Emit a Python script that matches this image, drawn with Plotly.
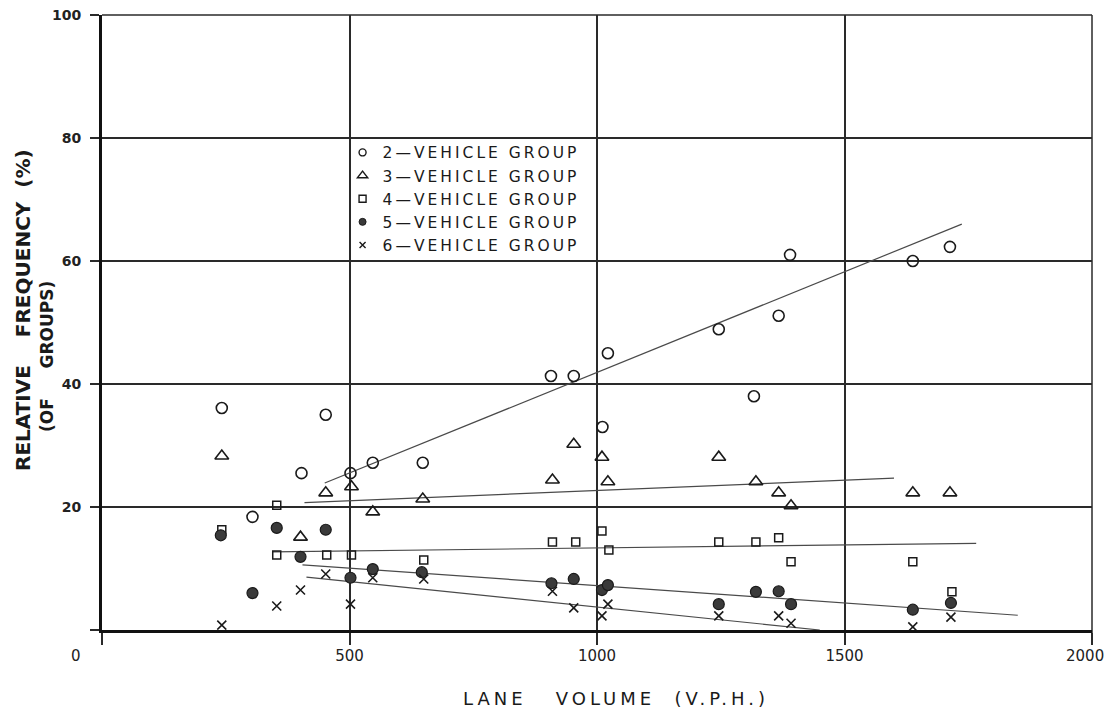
import plotly.graph_objects as go

# ---------------- data ----------------
x_tick_vals = [0, 500, 1000, 1500, 2000]
x_tick_text = ["", "500", "1000", "1500", ""]
x_corner_labels = ["0", "2000"]
y_tick_vals = [0, 20, 40, 60, 80, 100]
y_tick_text = ["", "20", "40", "60", "80", "100"]

group_names = ["2\u2014VEHICLE GROUP", "3\u2014VEHICLE GROUP", "4\u2014VEHICLE GROUP",
               "5\u2014VEHICLE GROUP", "6\u2014VEHICLE GROUP"]

veh2_x = [242, 304, 403, 452, 502, 547, 648, 907, 953, 1011, 1022, 1246, 1317, 1367, 1390, 1638, 1713]
veh2_y = [36.1, 18.4, 25.5, 35.0, 25.5, 27.2, 27.2, 41.3, 41.3, 33.0, 45.0, 48.9, 38.0, 51.1, 61.0, 60.0, 62.3]

veh3_x = [242, 401, 452, 504, 547, 648, 910, 953, 1010, 1022, 1246, 1321, 1367, 1392, 1638, 1713]
veh3_y = [28.3, 15.1, 22.3, 23.3, 19.2, 21.3, 24.4, 30.2, 28.1, 24.1, 28.1, 24.1, 22.3, 20.2, 22.3, 22.3]

veh4_x = [242, 353, 353, 454, 504, 650, 910, 957, 1010, 1024, 1246, 1321, 1367, 1392, 1638, 1717]
veh4_y = [16.3, 20.3, 12.2, 12.2, 12.2, 11.4, 14.3, 14.3, 16.1, 13.0, 14.3, 14.3, 15.0, 11.1, 11.1, 6.2]

veh5_x = [240, 304, 353, 401, 452, 502, 547, 646, 908, 953, 1010, 1022, 1246, 1321, 1367, 1392, 1638, 1715]
veh5_y = [15.4, 6.0, 16.6, 11.9, 16.3, 8.5, 9.9, 9.4, 7.6, 8.3, 6.5, 7.3, 4.2, 6.2, 6.3, 4.2, 3.3, 4.4]

veh6_x = [242, 353, 401, 452, 502, 547, 650, 910, 953, 1010, 1022, 1246, 1367, 1392, 1638, 1715]
veh6_y = [0.8, 3.9, 6.5, 9.1, 4.2, 8.5, 8.3, 6.3, 3.6, 2.3, 4.2, 2.3, 2.3, 1.1, 0.5, 2.1]

# fitted trend lines (end points)
trend2_x = [450, 1737]
trend2_y = [23.9, 66.0]
trend3_x = [409, 1600]
trend3_y = [20.7, 24.7]
trend4_x = [345, 1766]
trend4_y = [12.7, 14.1]
trend5_x = [405, 1850]
trend5_y = [10.6, 2.4]
trend6_x = [413, 1450]
trend6_y = [8.6, 0.0]

# ---------------- styling ----------------
INK = "#1a1a1a"
FONT = "DejaVu Sans"

series = [
    (veh2_x, veh2_y, dict(symbol="circle-open", size=11, color=INK, line=dict(width=1.6, color=INK)),
     dict(symbol="circle-open", size=7, color=INK, line=dict(width=1.4, color=INK))),
    (veh3_x, veh3_y, dict(symbol="triangle-up-open", size=12, color=INK, line=dict(width=1.6, color=INK)),
     dict(symbol="triangle-up-open", size=9, color=INK, line=dict(width=1.4, color=INK))),
    (veh4_x, veh4_y, dict(symbol="square-open", size=8, color=INK, line=dict(width=1.5, color=INK)),
     dict(symbol="square-open", size=7, color=INK, line=dict(width=1.4, color=INK))),
    (veh5_x, veh5_y, dict(symbol="circle", size=11, color="#3a3a3a", line=dict(width=1.2, color=INK)),
     dict(symbol="circle", size=7, color="#3a3a3a", line=dict(width=1, color=INK))),
    (veh6_x, veh6_y, dict(symbol="x-thin-open", size=9, color=INK, line=dict(width=1.6, color=INK)),
     dict(symbol="x-thin-open", size=6, color=INK, line=dict(width=1.4, color=INK))),
]
trends = [(trend2_x, trend2_y), (trend3_x, trend3_y), (trend4_x, trend4_y),
          (trend5_x, trend5_y), (trend6_x, trend6_y)]

fig = go.Figure()

for tx, ty in trends:
    fig.add_trace(go.Scatter(x=tx, y=ty, mode="lines", showlegend=False, hoverinfo="skip",
                             line=dict(color="#4a4a4a", width=1.2)))

for (sx, sy, mk, _), name in zip(series, group_names):
    fig.add_trace(go.Scatter(x=sx, y=sy, mode="markers", name=name, showlegend=False, marker=mk))

# legend entries (smaller symbols, as in the printed key)
for (_, _, _, lmk), name in zip(series, group_names):
    fig.add_trace(go.Scatter(x=[None], y=[None], mode="markers", name=name, marker=lmk))

tick_font = dict(family=FONT, size=15, color="#222")

fig.update_layout(
    width=1108, height=708,
    margin=dict(l=102, r=16, t=15, b=78, autoexpand=False),
    paper_bgcolor="white", plot_bgcolor="white",
    font=dict(family=FONT, color=INK),
    showlegend=True,
    legend=dict(x=0.243, y=0.8035, xanchor="left", yanchor="top",
                bgcolor="rgba(0,0,0,0)", borderwidth=0,
                font=dict(family=FONT, size=15.5, color=INK),
                itemwidth=30, tracegroupgap=0),
    xaxis=dict(range=[0, 2000], tickvals=x_tick_vals, ticktext=x_tick_text,
               showgrid=True, gridcolor="#2a2a2a", gridwidth=1.5,
               showline=True, linecolor="#111", linewidth=3,
               ticks="outside", ticklen=12, tickwidth=1.5, tickcolor="#2a2a2a",
               zeroline=False, tickfont=tick_font,
               ticklabelstandoff=-2, ticklabeloverflow="allow", automargin=False),
    yaxis=dict(range=[0, 100], tickvals=y_tick_vals, ticktext=y_tick_text,
               showgrid=True, gridcolor="#2a2a2a", gridwidth=1.5,
               showline=True, linecolor="#111", linewidth=3,
               ticks="outside", ticklen=9, tickwidth=1.5, tickcolor="#2a2a2a",
               zeroline=False, tickfont=dict(family=FONT, size=14, color="#222", weight="bold"),
               ticklabelstandoff=6, ticklabeloverflow="allow", automargin=False),
    shapes=[
        dict(type="line", xref="x domain", yref="y domain", x0=0, x1=1, y0=1, y1=1,
             line=dict(color="#2a2a2a", width=1.5), layer="below"),
        dict(type="line", xref="x domain", yref="y domain", x0=1, x1=1, y0=-0.02, y1=1,
             line=dict(color="#2a2a2a", width=1.5), layer="below"),
    ],
    annotations=[
        dict(text=x_corner_labels[0], xref="x", yref="y", x=x_tick_vals[0], y=0,
             xshift=-26, yshift=-26, showarrow=False, font=tick_font),
        dict(text=x_corner_labels[1], xref="x", yref="y", x=x_tick_vals[-1], y=0,
             xanchor="right", xshift=14, yshift=-26, showarrow=False, font=tick_font),
        dict(text="RELATIVE\u00a0\u00a0\u00a0\u00a0FREQUENCY\u00a0\u00a0(%)", textangle=-90,
             xref="paper", yref="paper", x=0, y=0.5203, xshift=-79,
             xanchor="center", yanchor="middle", showarrow=False,
             font=dict(family=FONT, size=20, color=INK, weight="bold")),
        dict(text="(OF\u00a0\u00a0\u00a0\u00a0\u00a0GROUPS)", textangle=-90,
             xref="paper", yref="paper", x=0, y=0.4439, xshift=-55,
             xanchor="center", yanchor="middle", showarrow=False,
             font=dict(family=FONT, size=17, color=INK, weight="bold")),
        dict(text="LANE\u00a0\u00a0\u00a0VOLUME\u00a0\u00a0(V.P.H.)",
             xref="paper", yref="paper", x=0.5192, y=-0.1106,
             xanchor="center", yanchor="middle", showarrow=False,
             font=dict(family=FONT, size=18, color=INK)),
    ],
)

post = """
(function(){
  var gd = document.getElementById('{plot_id}');
  function spacing(){
    gd.querySelectorAll('.legend .scrollbox').forEach(function(e){ e.removeAttribute('clip-path'); });
    gd.querySelectorAll('.legendtext').forEach(function(e){ e.style.letterSpacing = '3px'; });
    gd.querySelectorAll('.annotation-text').forEach(function(e){
      if (e.textContent.indexOf('LANE') >= 0) { e.style.letterSpacing = '4px'; }
    });
  }
  spacing();
  if (gd && gd.on) { gd.on('plotly_afterplot', spacing); }
})();
"""

fig.write_html("out.html", post_script=post)
